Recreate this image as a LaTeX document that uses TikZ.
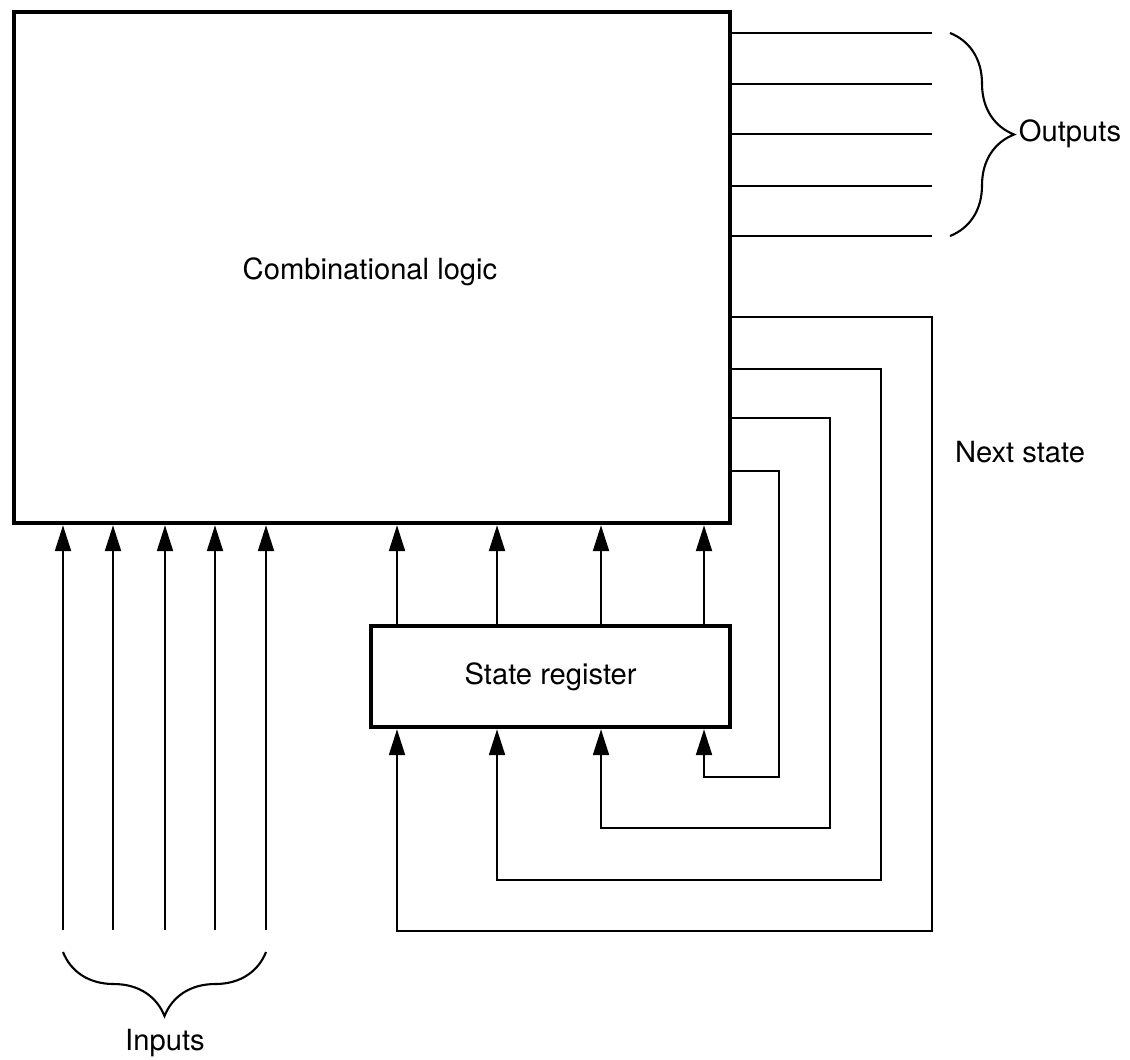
\documentclass[tikz,border=0pt]{standalone}
\usepackage{fontspec}
\setmainfont{TeX Gyre Heros}
\usepackage{tikz}
\usetikzlibrary{arrows.meta,positioning,calc,decorations.pathreplacing}

\begin{document}
\begin{tikzpicture}[
  blk/.style={rectangle,draw,line width=1.2pt,inner sep=0pt},
  wire/.style={line width=0.6pt},
  arr/.style={wire,-{Triangle[length=2.6mm,width=1.6mm]}},
  brc/.style={wire,decorate,decoration={brace,amplitude=0.64cm}},
  lbl/.style={font=\fontsize{8.3}{10}\selectfont},
]
  \useasboundingbox (0,0) rectangle (11.30,-10.59);
  %% blocks
  \node[blk,minimum width=7.16cm,minimum height=5.11cm,anchor=north west] (comb) at (0.12,-0.10) {};
  \node[lbl] (combtxt) at (3.70,-2.72) {Combinational logic};
  \node[blk,minimum width=3.59cm,minimum height=1.01cm,anchor=north west] (reg) at (3.69,-6.24) {};
  \node[lbl] (regtxt) at (reg.center) {State register};
  %% outputs
  \coordinate (out1) at (9.32,-0.33);
  \coordinate (out2) at (9.32,-0.84);
  \coordinate (out3) at (9.32,-1.34);
  \coordinate (out4) at (9.32,-1.86);
  \coordinate (out5) at (9.32,-2.36);
  \draw[wire] (out1 -| comb.east) -- (out1);
  \draw[wire] (out2 -| comb.east) -- (out2);
  \draw[wire] (out3 -| comb.east) -- (out3);
  \draw[wire] (out4 -| comb.east) -- (out4);
  \draw[wire] (out5 -| comb.east) -- (out5);
  \draw[brc] (9.50,-0.33) -- (9.50,-2.36);
  \node[lbl] (outtxt) at (10.70,-1.34) {Outputs};
  %% inputs
  \coordinate (in1) at (0.63,-9.30);
  \coordinate (in2) at (1.13,-9.30);
  \coordinate (in3) at (1.65,-9.30);
  \coordinate (in4) at (2.15,-9.30);
  \coordinate (in5) at (2.66,-9.30);
  \draw[arr] (in1) -- (in1 |- comb.south);
  \draw[arr] (in2) -- (in2 |- comb.south);
  \draw[arr] (in3) -- (in3 |- comb.south);
  \draw[arr] (in4) -- (in4 |- comb.south);
  \draw[arr] (in5) -- (in5 |- comb.south);
  \draw[brc] (2.66,-9.52) -- (0.63,-9.52);
  \node[lbl] (intxt) at (1.65,-10.43) {Inputs};
  %% state register to logic
  \draw[arr] ([xshift=0.28cm]reg.north west) -- ([xshift=0.28cm]reg.north west |- comb.south);
  \draw[arr] ([xshift=1.28cm]reg.north west) -- ([xshift=1.28cm]reg.north west |- comb.south);
  \draw[arr] ([xshift=2.32cm]reg.north west) -- ([xshift=2.32cm]reg.north west |- comb.south);
  \draw[arr] ([xshift=3.35cm]reg.north west) -- ([xshift=3.35cm]reg.north west |- comb.south);
  %% next state feedback
  \draw[arr] ([yshift=-3.07cm]comb.north east) -| (9.32,-9.31) -| ([xshift=0.28cm]reg.south west);
  \draw[arr] ([yshift=-3.59cm]comb.north east) -| (8.81,-8.80) -| ([xshift=1.28cm]reg.south west);
  \draw[arr] ([yshift=-4.08cm]comb.north east) -| (8.30,-8.28) -| ([xshift=2.32cm]reg.south west);
  \draw[arr] ([yshift=-4.61cm]comb.north east) -| (7.79,-7.77) -| ([xshift=3.35cm]reg.south west);
  \node[lbl] (nxttxt) at (10.20,-4.52) {Next state};
\end{tikzpicture}
\end{document}
